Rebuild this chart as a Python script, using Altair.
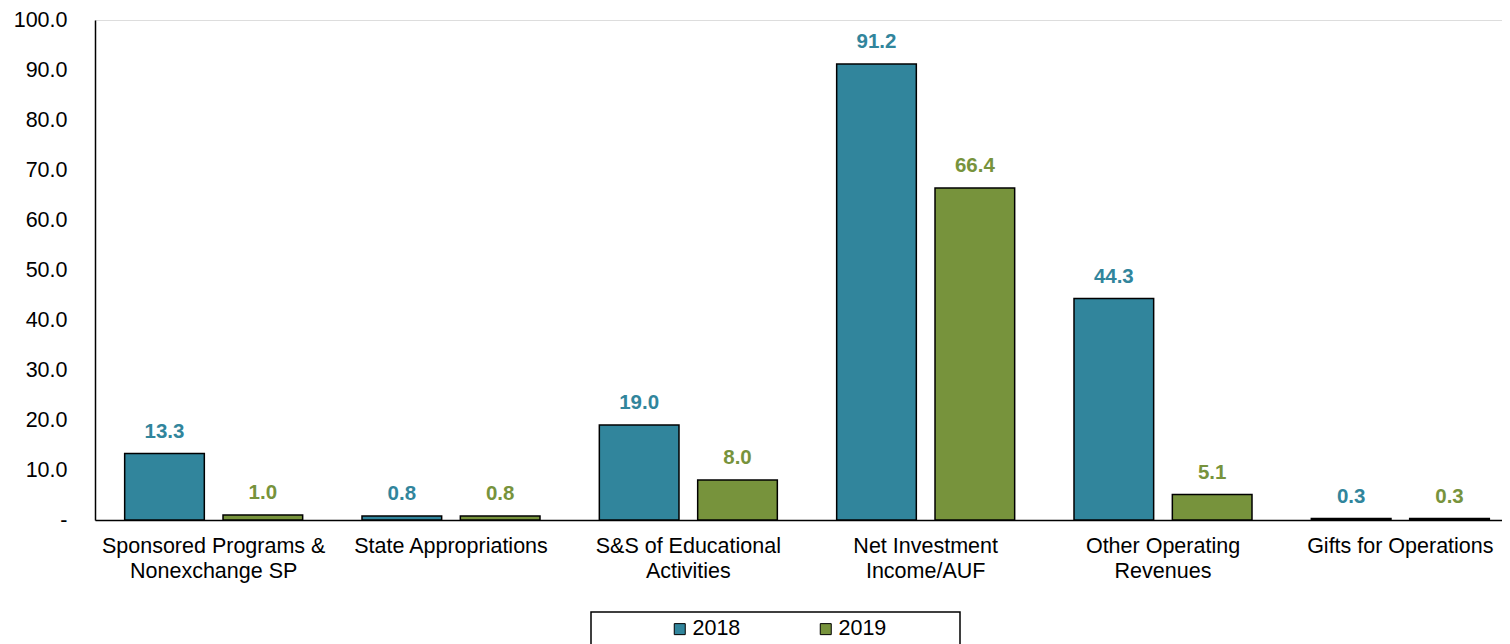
import altair as alt
import pandas as pd

categories = [
    "Sponsored Programs &\nNonexchange SP",
    "State Appropriations",
    "S&S of Educational\nActivities",
    "Net Investment\nIncome/AUF",
    "Other Operating\nRevenues",
    "Gifts for Operations",
]
years = ["2018", "2019"]
values_2018 = [13.3, 0.8, 19.0, 91.2, 44.3, 0.3]
values_2019 = [1.0, 0.8, 8.0, 66.4, 5.1, 0.3]
y_ticks = [0, 10, 20, 30, 40, 50, 60, 70, 80, 90, 100]

rows = []
for c, a, b in zip(categories, values_2018, values_2019):
    rows.append({"category": c, "year": "2018", "value": a})
    rows.append({"category": c, "year": "2019", "value": b})
df = pd.DataFrame(rows)

TEAL = "#31859C"
GREEN = "#77933C"
FONT = "Liberation Sans"

color_scale = alt.Scale(domain=years, range=[TEAL, GREEN])

base = alt.Chart(df).encode(
    x=alt.X(
        "category:N",
        sort=categories,
        scale=alt.Scale(paddingInner=0.25, paddingOuter=0.125),
        axis=alt.Axis(
            title=None,
            labelAngle=0,
            ticks=False,
            domainColor="black",
            domainWidth=1.5,
            labelFontSize=21.5,
            labelColor="black",
            labelFont=FONT,
            labelPadding=15,
            labelLineHeight=25,
            labelLimit=0,
            labelBaseline="top",
            labelExpr="split(datum.label, '\\n')",
        ),
    ),
    xOffset=alt.XOffset("year:N", sort=years, scale=alt.Scale(paddingInner=0.19, paddingOuter=0)),
    y=alt.Y(
        "value:Q",
        scale=alt.Scale(domain=[0, 100], nice=False),
        axis=alt.Axis(
            title=None,
            values=y_ticks,
            ticks=False,
            grid=False,
            domainColor="black",
            domainWidth=1.5,
            labelFontSize=21.5,
            labelColor="black",
            labelFont=FONT,
            labelPadding=28,
            labelExpr="datum.value == 0 ? '-\u00a0\u00a0' : format(datum.value, '.1f')",
        ),
    ),
)

bars = base.mark_bar(stroke="black", strokeWidth=1.5).encode(
    color=alt.Color(
        "year:N",
        scale=color_scale,
        legend=alt.Legend(
            title=None,
            orient="none",
            direction="horizontal",
            legendX=574,
            legendY=598,
            padding=0,
            symbolType="square",
            symbolSize=121,
            symbolStrokeColor="black",
            symbolStrokeWidth=1,
            labelFontSize=21.5,
            labelFont=FONT,
            labelColor="black",
            labelOffset=2,
            columnPadding=74,
        ),
    )
)

labels = base.mark_text(
    dy=-16, baseline="alphabetic", fontWeight="bold", fontSize=20.5, font=FONT
).encode(
    text=alt.Text("value:Q", format=".1f"),
    color=alt.Color("year:N", scale=color_scale, legend=None),
)

legend_box = alt.Chart(alt.Data(values=[{}])).mark_rect(
    fill="white", fillOpacity=0, stroke="black", strokeWidth=1.5
).encode(
    x=alt.value(496), x2=alt.value(865), y=alt.value(592), y2=alt.value(660)
)

chart = alt.layer(legend_box, bars, labels).properties(
    width=1424,
    height=500,
    autosize=alt.AutoSizeParams(type="none"),
    padding={"left": 87, "top": 12, "right": -17, "bottom": 140},
).configure_view(stroke=None).configure(font=FONT)

chart.save("out.html", embed_options={"renderer": "svg", "actions": False})
